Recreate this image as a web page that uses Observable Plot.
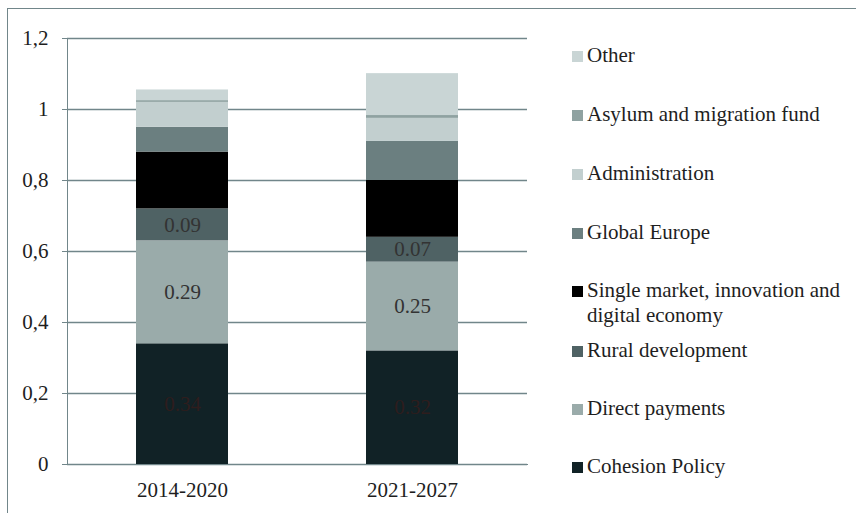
<!DOCTYPE html>
<html>
<head>
<meta charset="utf-8">
<script src="https://cdn.jsdelivr.net/npm/d3@7"></script>
<script src="https://cdn.jsdelivr.net/npm/@observablehq/plot@0.6"></script>
<style>
  html, body { margin: 0; padding: 0; background: #fff; }
  #wrap { position: relative; width: 856px; height: 513px; overflow: hidden; }
  #frame { position: absolute; left: 7px; top: 8px; width: 900px; height: 600px; border-top: 1.5px solid #71868a; border-left: 1.5px solid #71868a; }
  #chart { position: absolute; left: 0; top: 0; }
  #chart svg [aria-label*="axis"] text { fill: #1e1e1e; stroke: none; }
  #chart svg text { font-family: "Liberation Serif", "Times New Roman", serif !important; }
  .item { position: absolute; left: 587px; font-family: "Liberation Serif", "Times New Roman", serif; font-size: 21px; line-height: 25px; color: #1e1e1e; white-space: nowrap; }
  .sw { position: absolute; left: 572px; width: 11px; height: 11px; }
</style>
</head>
<body>
<div id="wrap">
  <div id="frame"></div>
  <div id="chart"></div>
  <div id="legend"></div>
</div>
<script>
// ---- data ----
const periods = ["2014-2020", "2021-2027"];
const categories = [
  "Cohesion Policy",
  "Direct payments",
  "Rural development",
  "Single market, innovation and digital economy",
  "Global Europe",
  "Administration",
  "Asylum and migration fund",
  "Other"
];
const values2014 = [0.34, 0.29, 0.09, 0.16, 0.07, 0.07, 0.005, 0.03];
const values2021 = [0.32, 0.25, 0.07, 0.16, 0.11, 0.065, 0.008, 0.118];
const labelledCategories = ["Cohesion Policy", "Direct payments", "Rural development"];
const colors = ["#112226", "#9aabaa", "#4f6264", "#000000", "#6b7f80", "#c2cfcf", "#8fa2a1", "#c9d5d5"];
const yTicks = [0, 0.2, 0.4, 0.6, 0.8, 1, 1.2];

const seriesByPeriod = [values2014, values2021];
const data = periods.flatMap((p, i) =>
  categories.map((c, j) => ({ period: p, category: c, value: seriesByPeriod[i][j] }))
);

const lineColor = "#71868a";
const serif = "'Liberation Serif', 'Times New Roman', serif";
const fmt = v => v.toFixed(2);

const chart = Plot.plot({
  width: 856,
  height: 513,
  marginLeft: 67,
  marginRight: 329,
  marginTop: 38,
  marginBottom: 49,
  style: { fontFamily: serif, fontSize: "21px", color: lineColor, background: "transparent" },
  x: { domain: periods, paddingInner: 0.6, paddingOuter: 0.3, label: null, tickSize: 0, tickPadding: 18, line: true },
  y: { domain: [0, 1.2], ticks: yTicks, tickFormat: d => String(d).replace(".", ","), label: null, tickSize: 5, tickPadding: 14, line: true },
  color: { domain: categories, range: colors },
  marks: [
    Plot.ruleY(yTicks, { stroke: lineColor, strokeWidth: 1.7 }),
    Plot.barY(data, { x: "period", y: "value", fill: "category", order: categories }),
    Plot.text(data, Plot.stackY({
      x: "period", y: "value", z: "category", order: categories,
      text: d => (labelledCategories.includes(d.category) && d.category !== categories[0]) ? fmt(d.value) : "",
      fill: "#333333", fontSize: 21, fontFamily: serif
    })),
    Plot.text(data, Plot.stackY({
      x: "period", y: "value", z: "category", order: categories,
      text: d => d.category === categories[0] ? fmt(d.value) : "",
      fill: "#2e1d1d", fontSize: 21, fontFamily: serif
    }))
  ]
});
document.getElementById("chart").appendChild(chart);

// ---- legend (HTML, reversed stack order) ----
const legend = document.getElementById("legend");
const legendOrder = categories.slice().reverse();
const legendBaselines = [62.7, 121.7, 180.7, 240, 297.7, 358, 415.7, 474];
const legendLines = {
  "Single market, innovation and digital economy": ["Single market, innovation and", "digital economy"]
};
legendOrder.forEach((cat, k) => {
  const base = legendBaselines[k];
  const sw = document.createElement("div");
  sw.className = "sw";
  sw.style.top = (base - 12) + "px";
  sw.style.background = colors[categories.indexOf(cat)];
  legend.appendChild(sw);
  const t = document.createElement("div");
  t.className = "item";
  t.style.top = (base - 19.6) + "px";
  t.innerHTML = (legendLines[cat] || [cat]).join("<br>");
  legend.appendChild(t);
});
</script>
</body>
</html>
